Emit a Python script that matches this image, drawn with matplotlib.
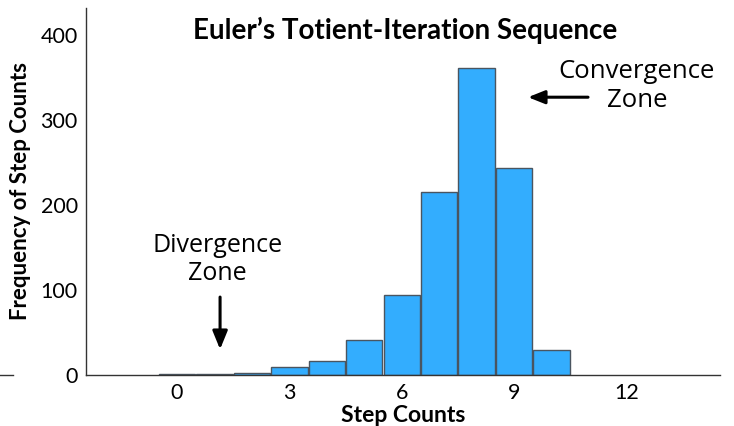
import matplotlib
matplotlib.use("Agg")
import matplotlib.pyplot as plt
from matplotlib.lines import Line2D

steps = [0, 1, 2, 3, 4, 5, 6, 7, 8, 9, 10]
freqs = [1, 1, 2, 9, 17, 41, 94, 216, 361, 244, 30]
xticks = [0, 3, 6, 9, 12]
yticks = [0, 100, 200, 300, 400]

title = "Euler\u2019s Totient-Iteration Sequence"
xlabel = "Step Counts"
ylabel = "Frequency of Step Counts"

fig = plt.figure(figsize=(7.34, 4.26), dpi=100)
ax = fig.add_axes([86/734, 1-375/426, (720-86)/734, (375-8)/426])

ax.bar(steps, freqs, width=0.97, color="#33adfe", edgecolor="#4a5560", linewidth=1.0, zorder=2)

ax.set_xlim(-2.43, 14.5)
ax.set_ylim(0, 432)
ax.set_xticks(xticks)
ax.set_yticks(yticks)
ax.tick_params(length=0, labelsize=15.5, pad=6)
for lab in ax.get_xticklabels() + ax.get_yticklabels():
    lab.set_fontfamily("Lato")
for s in ["top", "right"]:
    ax.spines[s].set_visible(False)
for s in ["left", "bottom"]:
    ax.spines[s].set_color("#333333")
    ax.spines[s].set_linewidth(1.0)

ax.set_xlabel(xlabel, fontsize=16.5, fontweight="bold", fontfamily="Lato", labelpad=1)
ax.set_ylabel(ylabel, fontsize=16, fontweight="bold", fontfamily="Lato", labelpad=7)

fig.text(405/734, 1-30/426, title, ha="center", va="center", fontsize=20,
         fontweight="bold", fontfamily="Lato")

ax.text(12.28, 340, "Convergence\nZone", ha="center", va="center", fontsize=18.5,
        fontfamily="Open Sans", linespacing=1.2)
ax.annotate("", xy=(9.3, 327), xytext=(11.05, 327),
            arrowprops=dict(arrowstyle="-|>,head_width=0.4,head_length=1.0", color="black", lw=2.2))

ax.text(1.07, 136, "Divergence\nZone", ha="center", va="center", fontsize=18,
        fontfamily="Open Sans", linespacing=1.2)
ax.annotate("", xy=(1.15, 27), xytext=(1.15, 95),
            arrowprops=dict(arrowstyle="-|>,head_width=0.45,head_length=1.1", color="black", lw=2.2))

fig.add_artist(Line2D([0, 13/734], [1-375/426, 1-375/426], color="#333333", lw=1.0))

fig.savefig("out.png", dpi=100)
